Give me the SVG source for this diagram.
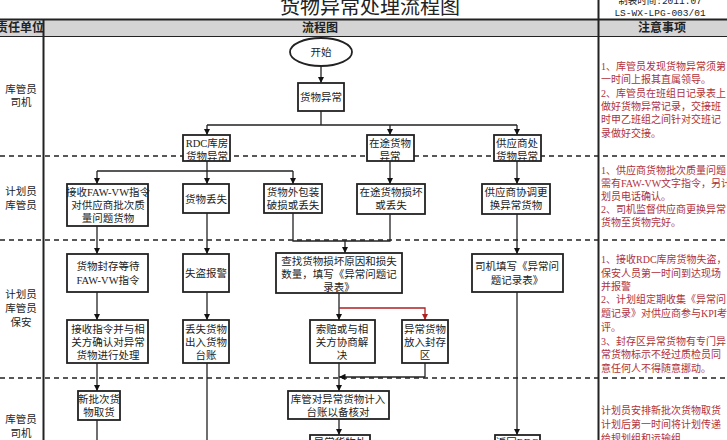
<svg xmlns="http://www.w3.org/2000/svg" width="727" height="440" viewBox="0 0 727 440">
<defs>
<marker id="a" viewBox="0 0 10 10" refX="10" refY="5" markerWidth="5" markerHeight="5" orient="auto"><path d="M0,0L10,5L0,10z" fill="#111"/></marker>
<marker id="ar" viewBox="0 0 10 10" refX="10" refY="5" markerWidth="5" markerHeight="5" orient="auto"><path d="M0,0L10,5L0,10z" fill="#b02020"/></marker>
<style>
text{font-family:"Liberation Serif","Noto Sans CJK SC",serif;font-size:10.5px;fill:#222;text-anchor:middle}
.n rect{fill:#fff;stroke:#222;stroke-width:1.8}
.c path{fill:none;stroke:#222;stroke-width:1.3;marker-end:url(#a)}
.c path.p{marker-end:none}
.note{fill:#b0303a;text-anchor:start;font-size:10px}
.h{font-weight:bold;font-size:12px}
.d{stroke:#222;stroke-width:1.5;stroke-dasharray:5,4}
</style>
</defs>
<rect width="727" height="440" fill="#fff"/>
<g id="header">
<text x="370" y="14" style="font-size:20px">货物异常处理流程图</text>
<text x="660" y="4" style="font-size:9.5px;font-family:'Liberation Mono','Noto Sans CJK SC',monospace">制表时间:2011.07</text>
<text x="660" y="16" style="font-size:9.5px;font-family:'Liberation Mono',monospace">LS-WX-LPG-003/01</text>
<rect x="0" y="20" width="727" height="16" fill="#d4d4d4"/>
<line x1="0" y1="19.5" x2="727" y2="19.5" stroke="#222" stroke-width="2"/>
<line x1="0" y1="36.5" x2="727" y2="36.5" stroke="#222" stroke-width="1.2"/>
<line x1="43.5" y1="19" x2="43.5" y2="440" stroke="#222" stroke-width="2"/>
<line x1="598.5" y1="0" x2="598.5" y2="440" stroke="#222" stroke-width="2"/>
<text class="h" x="20" y="32">责任单位</text>
<text class="h" x="320" y="32">流程图</text>
<text class="h" x="662" y="32">注意事项</text>
<line class="d" x1="0" y1="156" x2="727" y2="156"/>
<line class="d" x1="0" y1="240" x2="727" y2="240"/>
<line class="d" x1="0" y1="378" x2="727" y2="378"/>
<text x="21" y="93">库管员</text><text x="21" y="106">司机</text>
<text x="21" y="195">计划员</text><text x="21" y="209">库管员</text>
<text x="21" y="298">计划员</text><text x="21" y="312">库管员</text><text x="21" y="326">保安</text>
<text x="21" y="423">库管员</text><text x="21" y="437">司机</text>
</g>
<g id="notes">
<text class="note" x="601" y="70">1、库管员发现货物异常须第</text>
<text class="note" x="601" y="83">一时间上报其直属领导。</text>
<text class="note" x="601" y="97">2、库管员在班组日记录表上</text>
<text class="note" x="601" y="110">做好货物异常记录，交接班</text>
<text class="note" x="601" y="123">时甲乙班组之间针对交班记</text>
<text class="note" x="601" y="137">录做好交接。</text>
<text class="note" x="601" y="174">1、供应商货物批次质量问题</text>
<text class="note" x="601" y="187">需有FAW-VW文字指令，另计</text>
<text class="note" x="601" y="200">划员电话确认。</text>
<text class="note" x="601" y="213">2、司机监督供应商更换异常</text>
<text class="note" x="601" y="226">货物至货物完好。</text>
<text class="note" x="601" y="263">1、接收RDC库房货物失盗，</text>
<text class="note" x="601" y="277">保安人员第一时间到达现场</text>
<text class="note" x="601" y="290">并报警</text>
<text class="note" x="601" y="303">2、计划组定期收集《异常问</text>
<text class="note" x="601" y="317">题记录》对供应商参与KPI考</text>
<text class="note" x="601" y="331">评。</text>
<text class="note" x="601" y="345">3、封存区异常货物有专门异</text>
<text class="note" x="601" y="358">常货物标示不经过质检员同</text>
<text class="note" x="601" y="372">意任何人不得随意挪动。</text>
<text class="note" x="601" y="414">计划员安排新批次货物取货</text>
<text class="note" x="601" y="428">计划后第一时间将计划传递</text>
<text class="note" x="601" y="442">给规划组和运输组</text>
</g>
<g class="c" id="connectors">
<path d="M321,66V83"/>
<path class="p" d="M321,111V125M207,125H517"/>
<path d="M207,125V135"/><path d="M390,125V135"/><path d="M517,125V135"/>
<path class="p" d="M207,160V171M97,171H293"/>
<path d="M97,171V184"/><path d="M207,171V184"/><path d="M293,171V184"/>
<path d="M390,160V184"/><path d="M517,160V184"/>
<path class="p" d="M293,213V241H390V214"/>
<path d="M345,241V253"/>
<path d="M517,214V254"/>
<path d="M97,226V254"/><path d="M207,213V254"/>
<path d="M97,292V320"/><path d="M207,292V320"/>
<path d="M339,293V320"/>
<path d="M339,308H425V320" style="stroke:#b02020;marker-end:url(#ar)"/>
<path class="p" d="M425,363V377"/>
<path d="M425,377H339"/>
<path d="M339,363V391"/>
<path d="M97,363V391"/>
<path class="p" d="M97,420V440M207,363V440"/>
<path d="M339,419V435"/>
<path d="M517,292V435"/>
</g>
<g class="n" id="start"><ellipse cx="321" cy="52" rx="31" ry="14" fill="#fff" stroke="#222" stroke-width="1.8"/><text x="321" y="56">开始</text></g>
<g class="n" id="n1"><rect x="298" y="83" width="46" height="28"/><text x="321" y="101">货物异常</text></g>
<g class="n" id="n2"><rect x="183" y="135" width="47" height="26"/><text x="207" y="147">RDC库房</text><text x="207" y="160">货物异常</text></g>
<g class="n" id="n3"><rect x="367" y="135" width="47" height="26"/><text x="390" y="147">在途货物</text><text x="390" y="160">异常</text></g>
<g class="n" id="n4"><rect x="494" y="135" width="47" height="26"/><text x="517" y="147">供应商处</text><text x="517" y="160">货物异常</text></g>
<g class="n" id="n5"><rect x="67" y="184" width="81" height="42"/><text x="108" y="196">接收FAW-VW指令</text><text x="108" y="209">对供应商批次质</text><text x="108" y="222">量问题货物</text></g>
<g class="n" id="n6"><rect x="183" y="184" width="46" height="29"/><text x="206" y="203">货物丢失</text></g>
<g class="n" id="n7"><rect x="264" y="184" width="58" height="29"/><text x="293" y="196">货物外包装</text><text x="293" y="209">破损或丢失</text></g>
<g class="n" id="n8"><rect x="357" y="184" width="68" height="30"/><text x="391" y="196">在途货物损坏</text><text x="391" y="209">或丢失</text></g>
<g class="n" id="n9"><rect x="482" y="184" width="68" height="30"/><text x="516" y="196">供应商协调更</text><text x="516" y="209">换异常货物</text></g>
<g class="n" id="n10"><rect x="67" y="254" width="81" height="38"/><text x="108" y="270">货物封存等待</text><text x="108" y="284">FAW-VW指令</text></g>
<g class="n" id="n11"><rect x="183" y="254" width="46" height="38"/><text x="206" y="277">失盗报警</text></g>
<g class="n" id="n12"><rect x="276" y="253" width="126" height="40"/><text x="339" y="265">查找货物损坏原因和损失</text><text x="339" y="278">数量，填写《异常问题记</text><text x="339" y="291">录表》</text></g>
<g class="n" id="n13"><rect x="472" y="254" width="91" height="38"/><text x="517" y="270">司机填写《异常问</text><text x="517" y="284">题记录表》</text></g>
<g class="n" id="n14"><rect x="67" y="320" width="81" height="43"/><text x="108" y="333">接收指令并与相</text><text x="108" y="346">关方确认对异常</text><text x="108" y="359">货物进行处理</text></g>
<g class="n" id="n15"><rect x="183" y="320" width="46" height="43"/><text x="206" y="333">丢失货物</text><text x="206" y="346">出入货物</text><text x="206" y="359">台账</text></g>
<g class="n" id="n16"><rect x="310" y="320" width="65" height="43"/><text x="342" y="333">索赔或与相</text><text x="342" y="346">关方协商解</text><text x="342" y="359">决</text></g>
<g class="n" id="n17"><rect x="402" y="320" width="46" height="43"/><text x="425" y="333">异常货物</text><text x="425" y="346">放入封存</text><text x="425" y="359">区</text></g>
<g class="n" id="n18"><rect x="78" y="391" width="42" height="29"/><text x="99" y="403">新批次货</text><text x="99" y="416">物取货</text></g>
<g class="n" id="n19"><rect x="288" y="391" width="101" height="28"/><text x="338" y="403">库管对异常货物计入</text><text x="338" y="416">台账以备核对</text></g>
<g class="n" id="n20"><rect x="310" y="435" width="60" height="20"/><text x="340" y="446">异常货物处</text></g>
<g class="n" id="n21"><rect x="495" y="435" width="45" height="20"/><text x="517" y="446">返回RDC</text></g>
</svg>
